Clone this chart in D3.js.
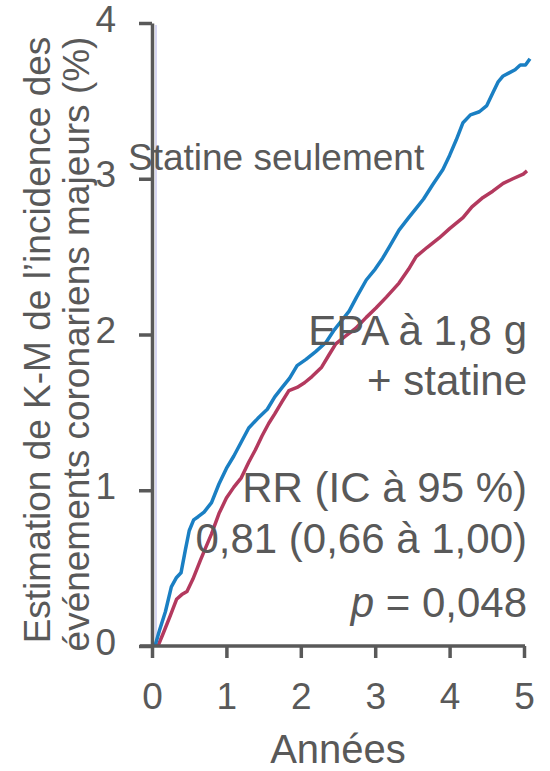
<!DOCTYPE html>
<html>
  <head>
    <meta charset="utf-8">
    <title>Incidence K-M</title>
    <script src="https://cdn.jsdelivr.net/npm/d3@7"></script>
    <style>
      body { margin: 0; background: #fff; }
      text { font-family: "Liberation Sans", Arial, sans-serif; fill: #595959; }
    </style>
  </head>
  <body>

  <div id="chart"></div>

  <script>

  var width = 550, height = 771, grey = "#595959";

  // annees / incidence (%)
  var statineX = [0.04,0.10,0.18,0.26,0.33,0.39,0.45,0.50,0.56,0.62,0.70,0.80,0.90,1.00,1.10,1.20,1.30,1.42,1.55,1.65,1.75,1.85,1.95,2.07,2.20,2.34,2.45,2.55,2.65,2.75,2.88,3.00,3.10,3.20,3.32,3.45,3.55,3.65,3.77,3.91,4.00,4.09,4.18,4.28,4.40,4.50,4.58,4.65,4.72,4.80,4.88,4.95,5.02,5.08];
  var statineY = [0,0.10,0.22,0.38,0.44,0.47,0.62,0.74,0.81,0.83,0.86,0.92,1.04,1.14,1.22,1.31,1.40,1.46,1.52,1.60,1.66,1.72,1.80,1.84,1.89,1.95,2.03,2.09,2.15,2.24,2.35,2.42,2.49,2.57,2.67,2.75,2.81,2.87,2.96,3.06,3.15,3.25,3.36,3.41,3.43,3.47,3.55,3.62,3.66,3.68,3.70,3.73,3.73,3.77];

  var epaX = [0.08,0.15,0.25,0.33,0.40,0.47,0.55,0.65,0.72,0.80,0.90,1.00,1.10,1.20,1.30,1.39,1.48,1.57,1.65,1.75,1.84,1.95,2.05,2.15,2.28,2.38,2.47,2.60,2.74,2.88,3.01,3.15,3.32,3.45,3.55,3.70,3.86,4.00,4.18,4.30,4.45,4.58,4.72,4.85,4.99,5.04];
  var epaY = [0,0.08,0.20,0.30,0.33,0.35,0.43,0.55,0.63,0.72,0.85,0.95,1.02,1.08,1.18,1.26,1.35,1.43,1.49,1.57,1.64,1.66,1.69,1.73,1.79,1.87,1.94,1.99,2.04,2.11,2.17,2.24,2.33,2.42,2.50,2.56,2.62,2.68,2.75,2.82,2.88,2.92,2.97,3.00,3.03,3.05];

  var xTicks = [0, 1, 2, 3, 4, 5];
  var yTicks = [0, 1, 2, 3, 4];

  var svg = d3.select("#chart").append("svg")
      .attr("width", width)
      .attr("height", height);

  var x = d3.scaleLinear().domain([0, 5]).range([152, 524]);
  var y = d3.scaleLinear().domain([0, 4]).range([646, 23]);

  // fine lavender line next to the y axis
  svg.append("line")
      .attr("x1", x(0) + 4).attr("x2", x(0) + 4)
      .attr("y1", y(4) + 2).attr("y2", y(0))
      .attr("stroke", "#c9c9ee")
      .attr("stroke-width", 1.5);

  var line = d3.line()
      .x(function(d_){ return x(d_[0]); })
      .y(function(d_){ return y(d_[1]); });

  svg.append("path")
      .datum(epaX.map(function(v_, i_){ return [v_, epaY[i_]]; }))
      .attr("d", line)
      .attr("fill", "none")
      .attr("stroke", "#b3395e")
      .attr("stroke-width", 3.5)
      .attr("stroke-linejoin", "round");

  svg.append("path")
      .datum(statineX.map(function(v_, i_){ return [v_, statineY[i_]]; }))
      .attr("d", line)
      .attr("fill", "none")
      .attr("stroke", "#1a7fc3")
      .attr("stroke-width", 3.5)
      .attr("stroke-linejoin", "round");

  var xAxis = svg.append("g")
      .attr("transform", "translate(0," + y(0) + ")")
      .call(d3.axisBottom(x).tickValues(xTicks).tickSize(12).tickSizeOuter(0).tickPadding(25)
          .tickFormat(d3.format("d")));

  var yAxis = svg.append("g")
      .attr("transform", "translate(" + x(0) + ",0)")
      .call(d3.axisLeft(y).tickValues(yTicks).tickSize(13).tickSizeOuter(0).tickPadding(23)
          .tickFormat(d3.format("d")));

  [xAxis, yAxis].forEach(function(g_){
      g_.select(".domain").attr("stroke", grey).attr("stroke-width", 3.5);
      g_.selectAll(".tick line").attr("stroke", grey).attr("stroke-width", 3.5);
      g_.selectAll(".tick text")
          .attr("fill", grey)
          .attr("font-size", 37)
          .attr("font-family", "Liberation Sans, Arial, sans-serif");
  });
  xAxis.select(".domain").attr("d", "M140,0H525");
  yAxis.selectAll(".tick text").attr("dy", "0.22em");

  svg.append("text")
      .attr("x", 338)
      .attr("y", 763)
      .attr("text-anchor", "middle")
      .attr("font-size", 40)
      .text("Années");

  var yTitle = svg.append("text")
      .attr("transform", "translate(50,340) rotate(-90)")
      .attr("text-anchor", "middle")
      .attr("font-size", 37);
  yTitle.append("tspan").attr("x", 0).attr("y", 0).text("Estimation de K-M de l’incidence des");
  yTitle.append("tspan").attr("x", -4).attr("y", 39).text("événements coronariens majeurs (%)");

  svg.append("text")
      .attr("x", 128)
      .attr("y", 170)
      .attr("font-size", 37)
      .text("Statine seulement");

  var right = ["EPA à 1,8 g", "+ statine", "RR (IC à 95 %)", "0,81 (0,66 à 1,00)"];
  var rightY = [345, 395, 502, 553];

  svg.selectAll(".note")
      .data(right)
      .enter()
      .append("text")
      .attr("class", "note")
      .attr("x", 527)
      .attr("y", function(d_, i_){ return rightY[i_]; })
      .attr("text-anchor", "end")
      .attr("font-size", 42)
      .text(function(d_){ return d_; });

  var pText = svg.append("text")
      .attr("x", 527)
      .attr("y", 617)
      .attr("text-anchor", "end")
      .attr("font-size", 42);
  pText.append("tspan").attr("font-style", "italic").text("p");
  pText.append("tspan").text(" = 0,048");

  </script>

  </body>
</html>
